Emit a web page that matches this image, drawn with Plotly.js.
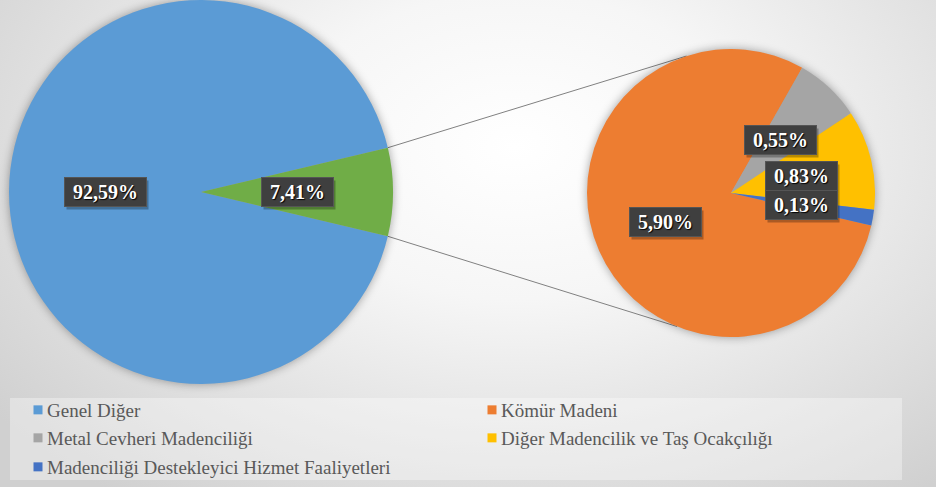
<!DOCTYPE html>
<html><head><meta charset="utf-8">
<script src="https://cdn.plot.ly/plotly-3.0.1.min.js"></script>
<style>
html,body{margin:0;padding:0;overflow:hidden;}
body{width:936px;height:487px;background: radial-gradient(ellipse 70% 90% at 55% 30%, #ffffff 0%, #f6f6f6 35%, #d0d0d0 100%);}
#chart{width:936px;height:487px;}
.pielayer .trace{filter: drop-shadow(0px 0px 5px rgba(0,0,0,0.35));}
.legendpoints path{transform: translate(31px, 0px);}
</style></head><body><div id="chart"></div>
<script>
// ---- data ----
const mainLabels = ['Genel Diğer', 'Madencilik ve Taş Ocakçılığı'];
const mainValues = [92.59, 7.41];
const mainColors = ['#5B9BD5', '#70AD47'];

const subLabels = ['Kömür Madeni', 'Metal Cevheri Madenciliği', 'Diğer Madencilik ve Taş Ocakçılığı', 'Madenciliği Destekleyici Hizmet Faaliyetleri'];
const subValues = [5.90, 0.55, 0.83, 0.13];
const subColors = ['#ED7D31', '#A5A5A5', '#FFC000', '#4472C4'];

const legendLabels = ['Genel Diğer', 'Kömür Madeni', 'Metal Cevheri Madenciliği', 'Diğer Madencilik ve Taş Ocakçılığı', 'Madenciliği Destekleyici Hizmet Faaliyetleri'];
const legendColors = ['#5B9BD5', '#ED7D31', '#A5A5A5', '#FFC000', '#4472C4'];
const legendRows = ['legend', 'legend', 'legend2', 'legend2', 'legend3'];

// ---- layout constants ----
const W = 936, H = 487;
const mainGeo = {cx: 201, cy: 192, r: 192};
const subGeo = {cx: 731, cy: 193, r: 144};
const subRotation = 103;
const connectorAngles = [342, 202]; // clock angles on the second pie
const serif = '"Liberation Serif", "Times New Roman", serif';

function domainOf(g) {
  return {x: [(g.cx - g.r) / W, (g.cx + g.r) / W], y: [1 - (g.cy + g.r) / H, 1 - (g.cy - g.r) / H]};
}
const sum = a => a.reduce((s, v) => s + v, 0);
const mainTotal = sum(mainValues);
const half = mainValues[1] / mainTotal * 180;
// plotly counterclockwise: first slice occupies [rotation, rotation + span] (clock degrees)
const mainRotation = 90 + half;

function pt(g, clockDeg, f) {
  const a = clockDeg * Math.PI / 180;
  return [g.cx + f * g.r * Math.sin(a), g.cy - f * g.r * Math.cos(a)];
}
function mids(values, rotation, direction) {
  const tot = sum(values); const out = [];
  let cur = rotation, dir = 1;
  if (direction === 'counterclockwise') { cur = rotation + values[0] / tot * 360; dir = -1; }
  values.forEach(v => { const span = v / tot * 360 * dir; out.push(cur + span / 2); cur += span; });
  return out;
}
const fmt = v => v.toFixed(2).replace('.', ',') + '%';

const ctx = document.createElement('canvas').getContext('2d');
ctx.font = 'bold 20px "Liberation Serif"';

const annotations = [];
function addLabel(g, ang, text) {
  const p = pt(g, ang, 0.5);
  const w = Math.round(ctx.measureText(text).width) + 16;
  const base = {x: p[0] / W, y: 1 - p[1] / H, xref: 'paper', yref: 'paper', xanchor: 'center', yanchor: 'middle',
    showarrow: false, width: w, height: 28, borderpad: 0};
  annotations.push(Object.assign({}, base, {text: '&nbsp;', xshift: 2, yshift: -3, bgcolor: 'rgba(0,0,0,0.28)',
    font: {family: serif, size: 20, color: 'rgba(0,0,0,0)'}}));
  annotations.push(Object.assign({}, base, {text: text, bgcolor: '#3f3f3f', bordercolor: '#555555', borderwidth: 1,
    font: {family: serif, size: 20, weight: 700, color: '#ffffff', shadow: '1px 1px 1px #000'}}));
}
mids(mainValues, mainRotation, 'counterclockwise').forEach((a, i) => addLabel(mainGeo, a, fmt(mainValues[i])));
mids(subValues, subRotation, 'clockwise').forEach((a, i) => addLabel(subGeo, a, fmt(subValues[i])));

// connector lines
const shapes = [];
[[90 - half, connectorAngles[0]], [90 + half, connectorAngles[1]]].forEach(([am, as]) => {
  const p0 = pt(mainGeo, am, 1), p1 = pt(subGeo, as, 1);
  shapes.push({type: 'line', xref: 'paper', yref: 'paper', x0: p0[0] / W, y0: 1 - p0[1] / H, x1: p1[0] / W, y1: 1 - p1[1] / H,
    line: {color: '#808080', width: 1}, layer: 'below'});
});
// legend background
shapes.push({type: 'rect', xref: 'paper', yref: 'paper', x0: 10 / W, x1: 902 / W, y0: 1 - 480 / H, y1: 1 - 398 / H,
  fillcolor: 'rgba(255,255,255,0.35)', line: {width: 0}, layer: 'below'});

const traces = [
  {type: 'pie', labels: mainLabels, values: mainValues, marker: {colors: mainColors, line: {width: 0}},
   domain: domainOf(mainGeo), sort: false, direction: 'counterclockwise', rotation: mainRotation,
   textinfo: 'none', hoverinfo: 'skip', showlegend: false},
  {type: 'pie', labels: subLabels, values: subValues, marker: {colors: subColors, line: {width: 0}},
   domain: domainOf(subGeo), sort: false, direction: 'clockwise', rotation: subRotation,
   textinfo: 'none', hoverinfo: 'skip', showlegend: false}
];
legendLabels.forEach((lab, i) => traces.push({type: 'scatter', mode: 'markers', x: [null], y: [null], name: lab,
  legend: legendRows[i], marker: {symbol: 'square', size: 9, color: legendColors[i]}, hoverinfo: 'skip'}));

const legendFont = {family: serif, size: 19, color: '#595959'};
function legendAt(yc) {
  return {x: (47 - 40) / W, xanchor: 'left', y: 1 - yc / H, yanchor: 'middle', orientation: 'h',
    entrywidth: 409, entrywidthmode: 'pixels', bgcolor: 'rgba(0,0,0,0)', borderwidth: 0, font: legendFont,
    itemsizing: 'trace', itemclick: false, itemdoubleclick: false};
}

const layout = {
  width: W, height: H, margin: {l: 0, r: 0, t: 0, b: 0},
  paper_bgcolor: 'rgba(0,0,0,0)', plot_bgcolor: 'rgba(0,0,0,0)',
  xaxis: {visible: false}, yaxis: {visible: false},
  showlegend: true,
  legend: legendAt(410), legend2: legendAt(438), legend3: legendAt(467),
  annotations: annotations, shapes: shapes, hovermode: false
};
Plotly.newPlot('chart', traces, layout, {displayModeBar: false, staticPlot: true});
</script></body></html>
